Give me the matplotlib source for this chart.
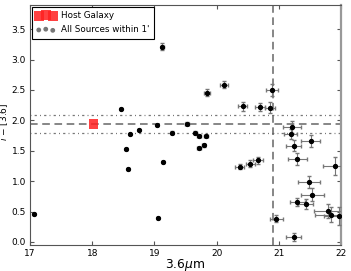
import matplotlib.pyplot as plt

# sources within 1 arcmin: 3.6um magnitude, i-[3.6] colour, errors
mag = [17.06, 18.46, 18.55, 18.58, 18.60, 18.75, 19.04, 19.05, 19.13, 19.14,
       19.28, 19.52, 19.66, 19.72, 19.83, 19.72, 19.79, 19.85, 20.12, 20.37,
       20.54, 20.67, 20.42, 20.70, 20.86, 20.89, 20.96, 21.24, 21.21, 21.19,
       21.24, 21.30, 21.51, 21.49, 21.54, 21.30, 21.43, 21.79, 21.84, 21.97,
       21.91]
color = [0.46, 2.195, 1.53, 1.20, 1.77, 1.845, 1.92, 0.395, 3.21, 1.32,
         1.80, 1.945, 1.80, 1.745, 1.745, 1.545, 1.59, 2.455, 2.59, 1.24,
         1.29, 1.34, 2.23, 2.22, 2.21, 2.505, 0.38, 0.08, 1.89, 1.78,
         1.58, 1.37, 1.66, 0.99, 0.78, 0.66, 0.62, 0.51, 0.45, 0.43,
         1.25]
mag_err = [0.01, 0.01, 0.01, 0.01, 0.01, 0.01, 0.01, 0.01, 0.02, 0.01,
           0.02, 0.03, 0.03, 0.03, 0.03, 0.03, 0.03, 0.05, 0.06, 0.07,
           0.07, 0.08, 0.07, 0.08, 0.08, 0.10, 0.10, 0.12, 0.14, 0.10,
           0.12, 0.15, 0.16, 0.18, 0.18, 0.12, 0.12, 0.22, 0.25, 0.25,
           0.20]
color_err = [0.01, 0.01, 0.01, 0.01, 0.01, 0.01, 0.01, 0.01, 0.06, 0.01,
             0.02, 0.02, 0.02, 0.02, 0.02, 0.02, 0.02, 0.06, 0.06, 0.04,
             0.05, 0.05, 0.07, 0.07, 0.09, 0.10, 0.06, 0.06, 0.10, 0.08,
             0.09, 0.10, 0.10, 0.10, 0.10, 0.07, 0.08, 0.12, 0.12, 0.15,
             0.15]

host_mag = [18.02]
host_color = [1.945]
host_color_lo = 1.79
host_color_hi = 2.095
mag_cut = 20.90

fig = plt.figure(figsize=(3.51, 2.71), dpi=100)
ax = fig.add_axes([0.0855, 0.096, 0.886, 0.886])

ax.axhline(host_color[0], color='#666666', ls=(0, (5, 3)), lw=1.1, zorder=1)
ax.axhline(host_color_lo, color='#777777', ls=(0, (0.8, 2.5, 1.8, 2.5)), lw=0.9, zorder=1)
ax.axhline(host_color_hi, color='#777777', ls=(0, (0.8, 2.5, 1.8, 2.5)), lw=0.9, zorder=1)
ax.axvline(mag_cut, color='#666666', ls=(0, (5, 3)), lw=1.1, zorder=1)

ax.scatter(host_mag, host_color, marker='s', s=50, color='#ff2020', alpha=0.85,
           edgecolors='none', zorder=2)
ax.errorbar(mag, color, xerr=mag_err, yerr=color_err, fmt='o', ms=2.8,
            mfc='black', mec='black', ecolor='#777777', elinewidth=0.8,
            capsize=1.5, zorder=3)

# legend proxies
h1 = ax.scatter([], [], marker='s', s=55, color='#ff2020', alpha=0.85,
                edgecolors='none', label='Host Galaxy')
h2 = ax.scatter([], [], marker='o', s=6, color='#777777', label="All Sources within 1'")
leg = ax.legend(handles=[h1, h2], loc='upper left', fontsize=6.3,
                scatterpoints=3, scatteryoffsets=[0.375, 0.5, 0.3125],
                fancybox=False, framealpha=1, borderpad=0.5, labelspacing=0.6,
                handlelength=2.2, handletextpad=0.6, borderaxespad=0.2)
leg.get_frame().set_edgecolor('black')
leg.get_frame().set_linewidth(0.8)

ax.set_xlim(17, 22)
ax.set_ylim(-0.05, 3.9)
ax.set_xticks([17, 18, 19, 20, 21, 22])
ax.set_yticks([0.0, 0.5, 1.0, 1.5, 2.0, 2.5, 3.0, 3.5])
ax.tick_params(direction='in', top=True, right=True, labelsize=6.5,
               length=3, color='#555555', pad=3)
for s in ax.spines.values():
    s.set_color('#555555')
ax.spines['right'].set_color('#999999')
ax.spines['right'].set_linewidth(1.6)

ax.set_xlabel(r'3.6$\mu$m', fontsize=8.8, labelpad=-1)
fig.text(-0.004, 0.55, r'$i$ $-$ [3.6]', rotation=90, fontsize=6.5,
         ha='left', va='center')

plt.savefig('out.png', dpi=100)
plt.close()
